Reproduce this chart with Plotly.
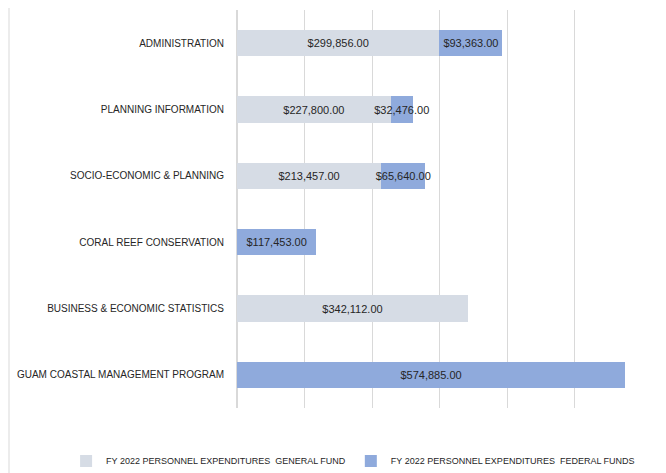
import plotly.graph_objects as go

categories = [
    "ADMINISTRATION",
    "PLANNING INFORMATION",
    "SOCIO-ECONOMIC & PLANNING",
    "CORAL REEF CONSERVATION",
    "BUSINESS & ECONOMIC STATISTICS",
    "GUAM COASTAL MANAGEMENT PROGRAM",
]
general_fund = [299856, 227800, 213457, 0, 342112, 0]
federal_funds = [93363, 32476, 65640, 117453, 0, 574885]
series_names = [
    "FY 2022 PERSONNEL EXPENDITURES  GENERAL FUND",
    "FY 2022 PERSONNEL EXPENDITURES  FEDERAL FUNDS",
]
x_ticks = [0, 100000, 200000, 300000, 400000, 500000, 600000]

FONT = "Liberation Sans, Arial, sans-serif"
TXT = "#262626"


def fmt(values):
    return ["${:,.2f}".format(v) if v else "" for v in values]


fig = go.Figure()
for name, vals, color in [
    (series_names[0], general_fund, "#D6DCE5"),
    (series_names[1], federal_funds, "#8FAADC"),
]:
    fig.add_trace(go.Bar(
        y=categories, x=vals, name=name, orientation="h",
        marker=dict(color=color, line=dict(width=0)),
        text=fmt(vals), textposition="inside", insidetextanchor="middle",
        textangle=0, constraintext="none",
        textfont=dict(family=FONT, size=11, color=TXT),
        hoverinfo="skip",
    ))

fig.update_layout(
    width=658, height=465,
    barmode="stack", bargap=0.6,
    plot_bgcolor="white", paper_bgcolor="white",
    margin=dict(l=229, r=24, t=2, b=65, autoexpand=False),
    font=dict(family=FONT, size=11, color=TXT),
    xaxis=dict(range=[0, 600000], tickvals=x_ticks, showticklabels=False,
               showgrid=True, gridcolor="#D9D9D9", gridwidth=1,
               zeroline=True, zerolinecolor="#D9D9D9", showline=False,
               automargin=False),
    yaxis=dict(autorange="reversed", showgrid=False, showline=False,
               ticks="", ticklabelstandoff=12, automargin=False,
               tickfont=dict(family=FONT, size=10, color=TXT)),
    legend=dict(orientation="h", xref="paper", yref="paper",
                x=-0.422, xanchor="left", y=-0.133, yanchor="middle",
                font=dict(family=FONT, size=9, color=TXT),
                itemwidth=30, traceorder="normal"),
    showlegend=True,
    shapes=[dict(type="line", xref="paper", yref="paper",
                 x0=-228 / 405, x1=-228 / 405, y0=-0.2, y1=1.05,
                 line=dict(color="#D9D9D9", width=1))],
)

fig.write_html("out.html")
